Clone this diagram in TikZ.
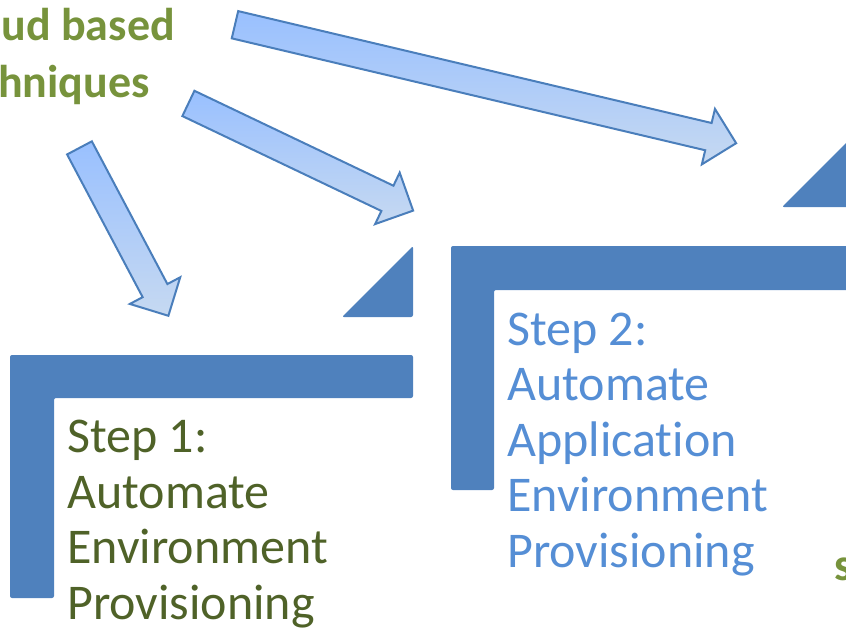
\documentclass[tikz,border=0pt]{standalone}
\usepackage{fontspec}
\setmainfont{Carlito}[Ligatures=NoCommon]
\usetikzlibrary{positioning}
\usetikzlibrary{shapes.arrows}
\definecolor{stepblue}{HTML}{4F81BD}
\definecolor{arrowline}{HTML}{4A7EBB}
\definecolor{arrowtail}{HTML}{99C0FF}
\definecolor{arrowhead}{HTML}{C6D9F1}
\definecolor{srcgreen}{HTML}{77933C}
\definecolor{stepAtext}{HTML}{4F6228}
\definecolor{stepBtext}{HTML}{558ED5}
\tikzset{
        % Block arrows from the source text
        blockarrow/.style={single arrow, draw=arrowline, line width=2pt, top color=arrowtail, bottom color=arrowhead,
            inner xsep=0pt, inner ysep=13pt, minimum width=55pt, single arrow head extend=14.5pt, anchor=tail},
        % Step corner and triangle
        stepshape/.style={fill=stepblue, rounded corners=2pt},
        % Step texts (anchored at the last line)
        steptext/.style={align=left, inner sep=0pt, anchor=base west, font=\fontsize{50}{55.5}\selectfont},
        % Source text
        srctext/.style={inner sep=0pt, anchor=base east, text=srcgreen, font=\fontsize{46}{55}\selectfont\bfseries}
}
\begin{document}
\begin{tikzpicture}[x=1pt, y=-1pt]
    \useasboundingbox (0,0) rectangle (846,629);
    \clip (0,0) rectangle (846,629);
    % source text
    \node[srctext] (srcA) at (175,40) {Cloud based};
    \node[srctext] (srcB) at (150,97) {techniques};
    % arrows
    \node[blockarrow, minimum height=190pt, rotate=-62.1] (arrA) at (79,147) {};
    \node[blockarrow, minimum height=249pt, rotate=-25.5] (arrB) at (187.5,103) {};
    \node[blockarrow, minimum height=515pt, rotate=-13.3] (arrC) at (234,24.5) {};
    % step 1
    \fill[stepshape] (10,355) -- (413,355) -- (413,398) -- (54,398) -- (54,598) -- (10,598) -- cycle;
    \fill[stepshape] (342,317) -- (413,246) -- (413,317) -- cycle;
    \node[steptext, text=stepAtext] (stepA) at (67,619) {Step 1:\\Automate\\Environment\\Provisioning};
    % step 2
    \fill[stepshape] (451,246) -- (870,246) -- (870,290) -- (494,290) -- (494,490) -- (451,490) -- cycle;
    \fill[stepshape] (782,207) -- (853,136) -- (853,207) -- cycle;
    \node[steptext, text=stepBtext] (stepB) at (507,567) {Step 2:\\Automate\\Application\\Environment\\Provisioning};
    % step 3 (cut)
    \node[inner sep=0pt, anchor=base west, text=srcgreen, font=\fontsize{46}{55}\selectfont\bfseries] (stepC) at (834,580) {s};
\end{tikzpicture}
\end{document}
